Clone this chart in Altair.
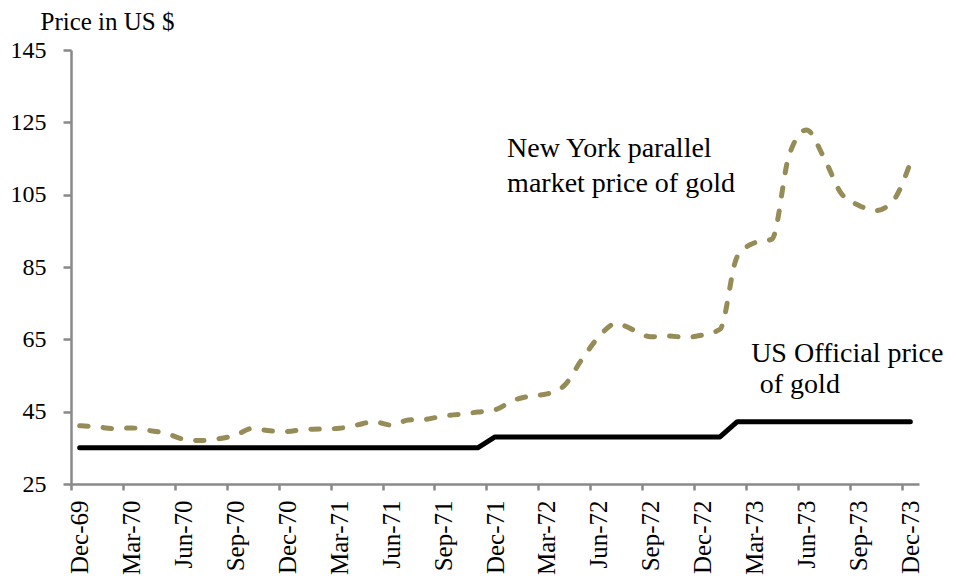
import altair as alt
import pandas as pd

months = ["Dec-69", "Jan-70", "Feb-70", "Mar-70", "Apr-70", "May-70", "Jun-70", "Jul-70", "Aug-70",
          "Sep-70", "Oct-70", "Nov-70", "Dec-70", "Jan-71", "Feb-71", "Mar-71", "Apr-71", "May-71",
          "Jun-71", "Jul-71", "Aug-71", "Sep-71", "Oct-71", "Nov-71", "Dec-71", "Jan-72", "Feb-72",
          "Mar-72", "Apr-72", "May-72", "Jun-72", "Jul-72", "Aug-72", "Sep-72", "Oct-72", "Nov-72",
          "Dec-72", "Jan-73", "Feb-73", "Mar-73", "Apr-73", "May-73", "Jun-73", "Jul-73", "Aug-73",
          "Sep-73", "Oct-73", "Nov-73", "Dec-73"]

parallel_price = [41.1, 40.8, 40.3, 40.5, 39.8, 39.0, 37.4, 37.0, 37.5, 38.5,
                  40.4, 39.7, 39.5, 40.1, 40.2, 40.4, 41.3, 42.2, 41.3, 42.7,
                  42.9, 43.8, 44.3, 44.9, 45.5, 48.0, 49.3, 49.9, 52.2, 59.3,
                  65.7, 69.4, 67.6, 65.7, 65.9, 65.6, 66.2, 67.8, 87.9, 91.7,
                  92.7, 116.0, 122.9, 115.3, 105.4, 102.1, 100.6, 103.3, 113.8]

official_price = [35, 35, 35, 35, 35, 35, 35, 35, 35, 35,
                  35, 35, 35, 35, 35, 35, 35, 35, 35, 35,
                  35, 35, 35, 35, 38, 38, 38, 38, 38, 38,
                  38, 38, 38, 38, 38, 38, 38, 38, 42.22, 42.22,
                  42.22, 42.22, 42.22, 42.22, 42.22, 42.22, 42.22, 42.22, 42.22]

label_texts = ["New York parallel", "market price of gold", "US Official price", "of gold"]
label_x = [24.7, 24.7, 38.8, 39.3]
label_y = [115.4, 105.8, 58.8, 50.1]

y_ticks = [25, 45, 65, 85, 105, 125, 145]
x_ticks = list(range(0, 49, 3))

FONT = "Liberation Serif"
W, H = 848, 434
half_band = W / len(months) / 2

df = pd.DataFrame({"i": list(range(len(months))), "month": months,
                   "parallel": parallel_price, "official": official_price})
lab = pd.DataFrame({"text": label_texts, "x": label_x, "y": label_y})

label_expr = "[" + ",".join("'" + m + "'" for m in months) + "][datum.value]"

x_scale = alt.Scale(domain=[-0.5, len(months) - 0.5], nice=False, zero=False)
y_scale = alt.Scale(domain=[25, 145], nice=False, zero=False)

x_axis = alt.Axis(values=x_ticks, labelExpr=label_expr, labelAngle=270, title=None,
                  tickOffset=-half_band, labelOffset=half_band,
                  tickSize=6, labelPadding=10, labelFont=FONT, labelFontSize=25,
                  labelColor="black", domainColor="#898989", tickColor="#898989",
                  domainWidth=2.5, tickWidth=2.5, grid=False, labelFlush=False,
                  labelOverlap=False)
y_axis = alt.Axis(values=y_ticks, title="Price in US $", titleAngle=0, titleAlign="left",
                  titleBaseline="alphabetic", titleX=-31, titleY=-21, titleFont=FONT,
                  titleFontSize=25, titleFontWeight="normal", titleColor="black",
                  tickSize=8, labelPadding=17, labelFont=FONT, labelFontSize=24,
                  labelColor="black", domainColor="#898989", tickColor="#898989",
                  domainWidth=2.5, tickWidth=2.5, grid=False, labelFlush=False)

base = alt.Chart(df)

official = base.mark_line(color="black", strokeWidth=5, strokeCap="round", strokeJoin="round").encode(
    x=alt.X("i:Q", scale=x_scale, axis=x_axis),
    y=alt.Y("official:Q", scale=y_scale, axis=y_axis),
)

parallel = base.mark_line(color="#968C58", strokeWidth=5, strokeCap="round",
                          strokeDash=[8.5, 15], interpolate="monotone").encode(
    x=alt.X("i:Q", scale=x_scale),
    y=alt.Y("parallel:Q", scale=y_scale),
)

texts = alt.Chart(lab).mark_text(font=FONT, fontSize=28, color="black", align="left",
                                 baseline="alphabetic").encode(
    x=alt.X("x:Q", scale=x_scale),
    y=alt.Y("y:Q", scale=y_scale),
    text="text:N",
)

chart = alt.layer(official, parallel, texts).properties(
    width=W, height=H,
    autosize=alt.AutoSizeParams(type="none"),
    padding={"left": 63, "top": 42, "right": 29, "bottom": 98},
).configure_view(stroke=None)

chart.save("out.html", embed_options={"renderer": "svg", "actions": False})
